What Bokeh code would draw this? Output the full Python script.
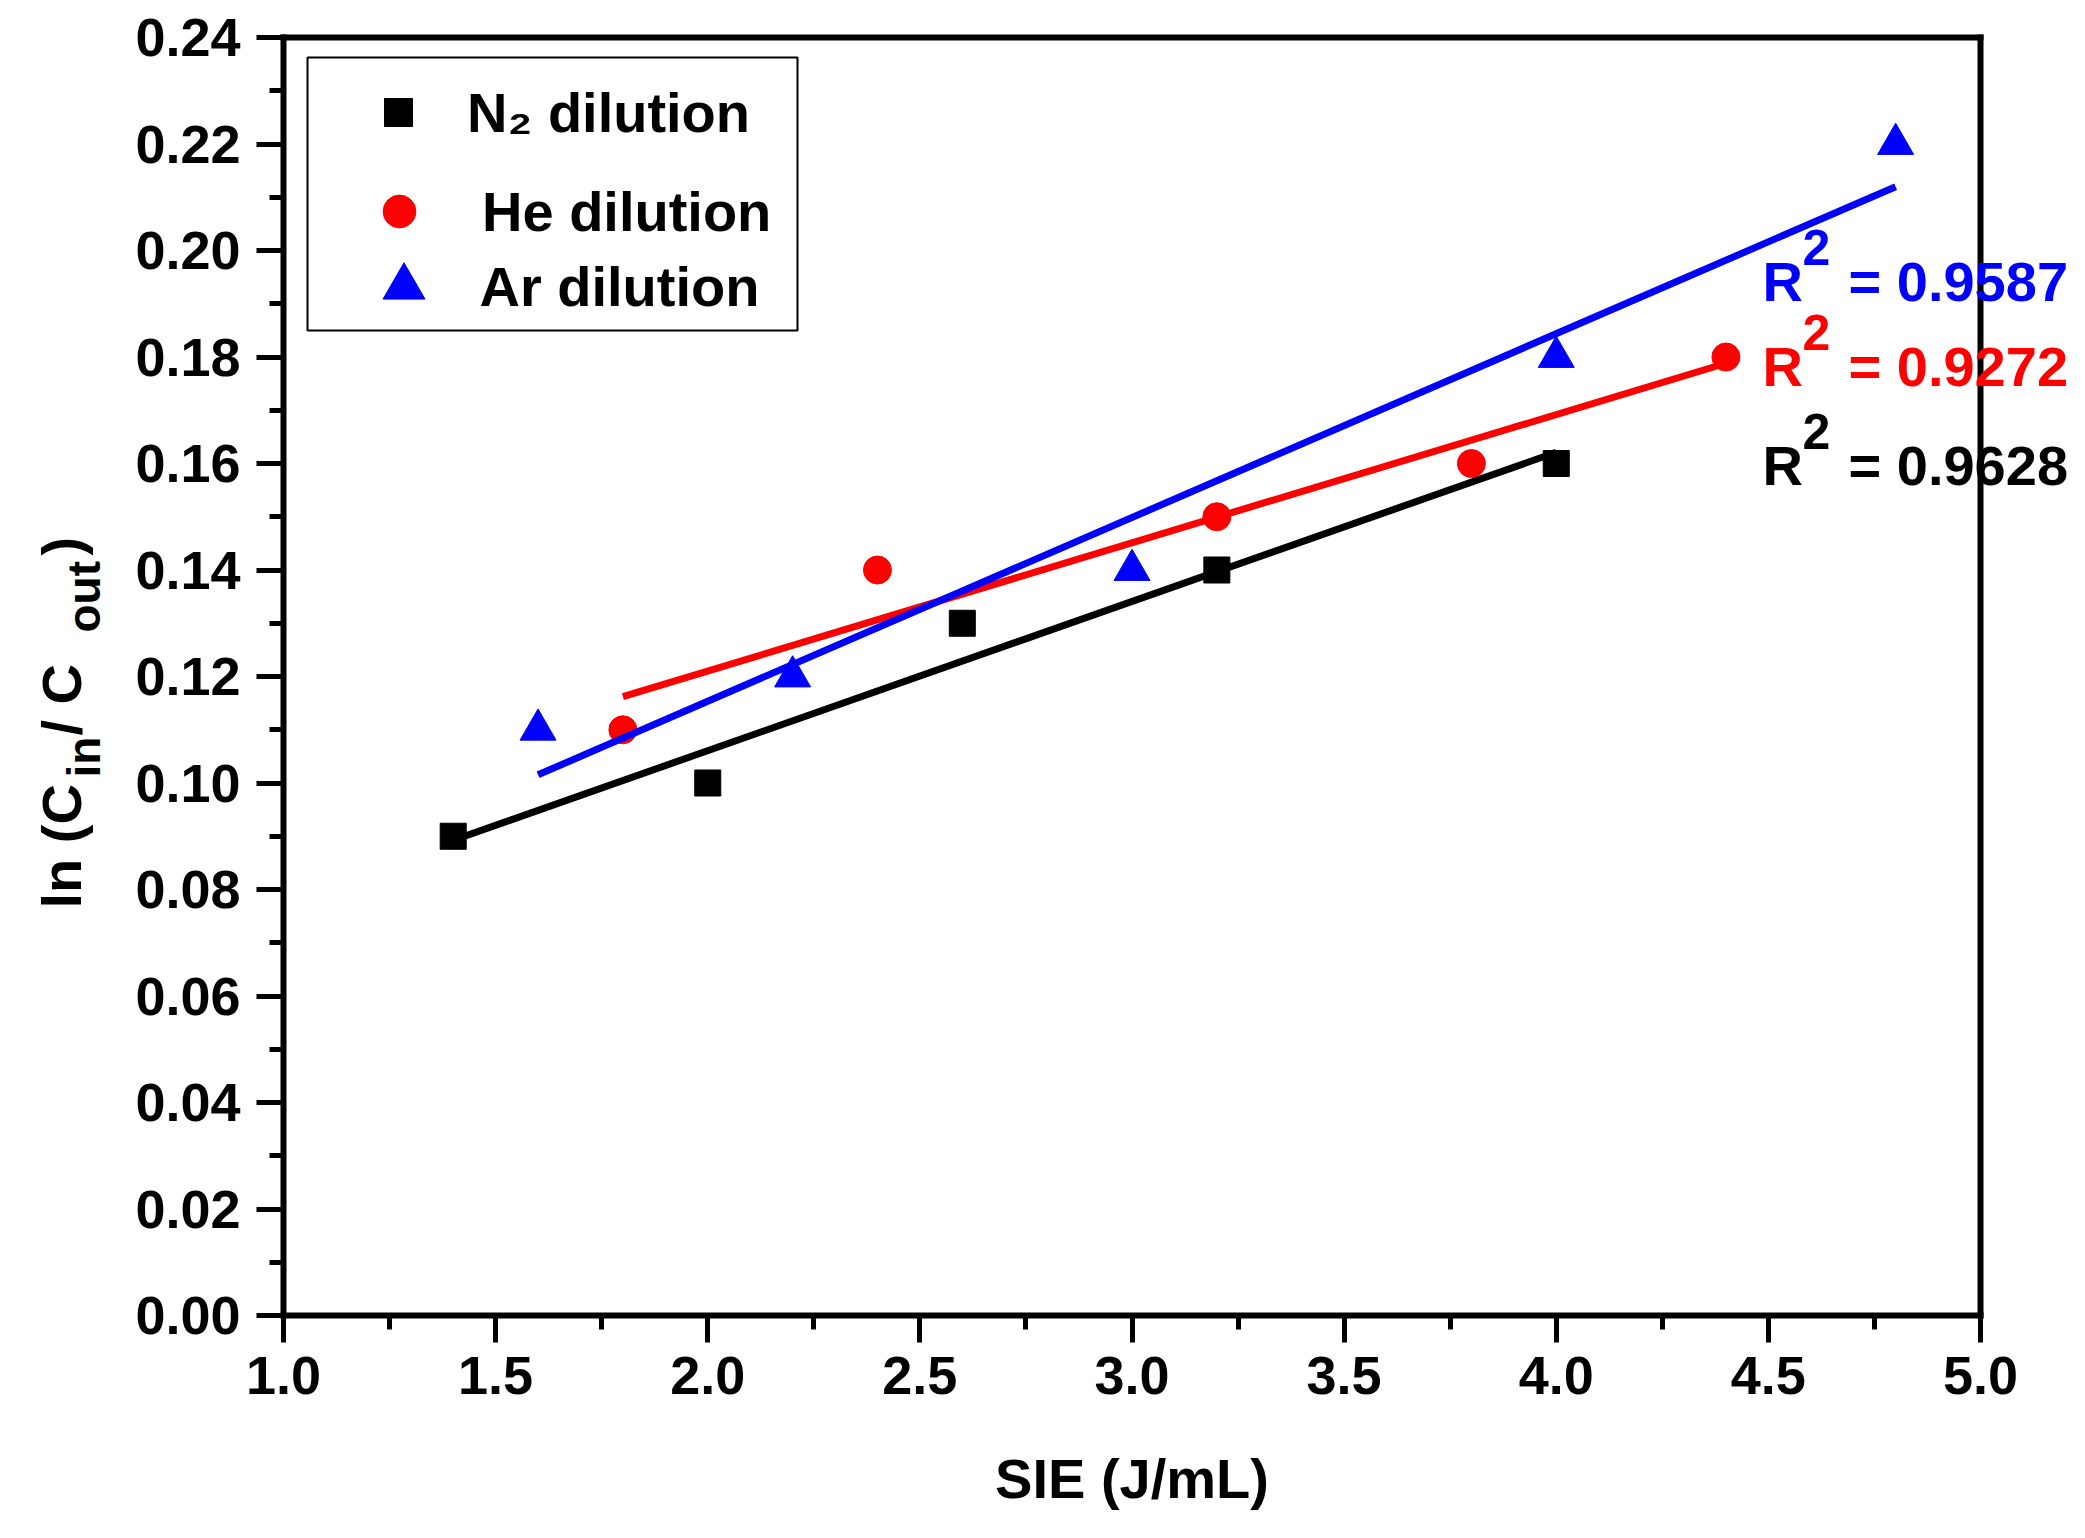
import numpy as np
from math import pi
from bokeh.plotting import figure
from bokeh.models import (Range1d, SingleIntervalTicker, FixedTicker, PrintfTickFormatter,
                          LinearAxis, Label, Legend, LegendItem, BoxAnnotation)
from bokeh.embed import file_html
from bokeh.resources import INLINE

# ---------------- data ----------------
n2_x = [1.4, 2.0, 2.6, 3.2, 4.0]
n2_y = [0.09, 0.10, 0.13, 0.14, 0.16]
he_x = [1.8, 2.4, 3.2, 3.8, 4.4]
he_y = [0.11, 0.14, 0.15, 0.16, 0.18]
ar_x = [1.6, 2.2, 3.0, 4.0, 4.8]
ar_y = [0.11, 0.12, 0.14, 0.18, 0.22]
r2_text = {"ar": "0.9587", "he": "0.9272", "n2": "0.9628"}
legend_labels = ["N\u2082 dilution", "He dilution", "Ar dilution"]
x_label = "SIE (J/mL)"
X0, X1, Y0, Y1 = 1.0, 5.0, 0.0, 0.24      # axis extents

FONT = "Liberation Sans"
BLACK, RED, BLUE = "#000000", "#FF0000", "#0000FF"

# ---------------- layout (page pixels) ----------------
W, H = 2077, 1530                        # canvas
FL, FR, FT, FB = 283, 1980, 37, 1315     # axes box
BASE_FIX = 22                            # label anchor correction

def dx(px):
    return X0 + (px - FL) * (X1 - X0) / (FR - FL)

def dy(py):
    return Y0 + (FB - py) * (Y1 - Y0) / (FB - FT)

# the plotting frame covers the whole canvas; the axes are placed at fixed locations
p = figure(frame_width=W, frame_height=H,
           min_border_left=0, min_border_right=0, min_border_top=0, min_border_bottom=0,
           x_range=Range1d(dx(0), dx(W)), y_range=Range1d(dy(H), dy(0)),
           x_axis_location=None, y_axis_location=None,
           output_backend="svg", toolbar_location=None,
           background_fill_color="white", border_fill_color="white")
p.grid.visible = False
p.outline_line_color = None

ex = 3 * (X1 - X0) / (FR - FL)
ey = 3 * (Y1 - Y0) / (FB - FT)

def style_axis(ax):
    ax.axis_line_width = 6
    ax.axis_line_color = BLACK
    ax.major_tick_line_width = 5
    ax.minor_tick_line_width = 5
    ax.major_tick_out = 27
    ax.major_tick_in = 0
    ax.minor_tick_out = 14
    ax.minor_tick_in = 0
    ax.major_label_text_font = FONT
    ax.major_label_text_font_style = "bold"
    ax.major_label_text_font_size = "54px"
    ax.major_label_text_color = BLACK

xaxis = LinearAxis(fixed_location=Y0, bounds=(X0 - ex, X1 + ex),
                   ticker=SingleIntervalTicker(interval=0.5, num_minor_ticks=2),
                   formatter=PrintfTickFormatter(format="%.1f"))
style_axis(xaxis)
xaxis.major_label_standoff = 14
xaxis.axis_label = x_label
xaxis.axis_label_text_font = FONT
xaxis.axis_label_text_font_style = "bold"
xaxis.axis_label_text_font_size = "56px"
xaxis.axis_label_text_color = BLACK
xaxis.axis_label_standoff = 50
p.add_layout(xaxis, "below")

yaxis = LinearAxis(fixed_location=X0, bounds=(Y0 - ey, Y1 + ey),
                   ticker=SingleIntervalTicker(interval=0.02, num_minor_ticks=2),
                   formatter=PrintfTickFormatter(format="%.2f"))
style_axis(yaxis)
yaxis.major_label_standoff = 16
p.add_layout(yaxis, "left")

# plain frame lines on top and right
top_ax = LinearAxis(fixed_location=Y1, bounds=(X0 - ex, X1 + ex), ticker=FixedTicker(ticks=[]))
right_ax = LinearAxis(fixed_location=X1, bounds=(Y0 - ey, Y1 + ey), ticker=FixedTicker(ticks=[]))
for ax, side in ((top_ax, "above"), (right_ax, "right")):
    ax.axis_line_width = 6
    ax.axis_line_color = BLACK
    ax.major_tick_out = 0
    ax.minor_tick_out = 0
    ax.major_tick_in = 0
    ax.minor_tick_in = 0
    p.add_layout(ax, side)

# ---------------- markers ----------------
r_n2 = p.scatter(n2_x, n2_y, marker="square", size=26, color=BLACK)
r_he = p.scatter(he_x, he_y, marker="circle", size=28, color=RED)
r_ar = p.scatter(ar_x, ar_y, marker="triangle", size=36, color=BLUE)

# ---------------- linear fits ----------------
for xs, ys, c in ((n2_x, n2_y, BLACK), (he_x, he_y, RED), (ar_x, ar_y, BLUE)):
    k, b = np.polyfit(xs, ys, 1)
    lx = np.array([min(xs), max(xs)])
    p.line(lx, k * lx + b, line_color=c, line_width=7)

# ---------------- legend ----------------
p.add_layout(BoxAnnotation(left=dx(307), right=dx(797), top=dy(57), bottom=dy(330),
                           fill_color="white", fill_alpha=1,
                           line_color=BLACK, line_width=2, line_alpha=1))

for label, rend, cx, cy, g, standoff, tx in ((legend_labels[0], r_n2, 398, 112, 70, 0, 467),
                                              (legend_labels[1], r_he, 399, 211, 82, 0, 482),
                                              (legend_labels[2], r_ar, 403, 286, 105, 0, 480)):
    lg = Legend(items=[LegendItem(label=label, renderers=[rend])],
                location=(cx - g / 2, H - (cy + g / 2)), margin=0, padding=0,
                glyph_width=g, glyph_height=g, label_standoff=int(tx - (cx + g / 2)),
                label_height=60, label_text_font=FONT, label_text_font_style="bold",
                label_text_font_size="56px", label_text_color=BLACK,
                border_line_color=None, background_fill_alpha=0)
    p.add_layout(lg)

# ---------------- text annotations ----------------
def txt(px, py, s, color=BLACK, size="56px", angle=0.0):
    p.add_layout(Label(x=dx(px), y=dy(py), text=s, text_font=FONT,
                       text_font_style="bold", text_font_size=size,
                       text_color=color, text_align="left",
                       text_baseline="alphabetic", angle=angle))

for key, base_py, color in (("ar", 303, BLUE), ("he", 388, RED), ("n2", 487, BLACK)):
    txt(1762, base_py - BASE_FIX, "R", color)
    txt(1802, base_py - 34 - BASE_FIX, "2", color, "50px")
    txt(1848, base_py - BASE_FIX, "= " + r2_text[key], color)

# y axis title: ln (C_in / C_out)
for s, start_py, base_px, size in (("ln (C", 908, 83, "56px"),
                                    ("in", 777, 105, "46px"),
                                    ("/ C", 735, 83, "56px"),
                                    ("out", 632, 105, "46px"),
                                    (")", 555, 83, "56px")):
    txt(base_px - BASE_FIX, start_py, s, BLACK, size, pi / 2)

open("out.html", "w").write(file_html(p, INLINE))
